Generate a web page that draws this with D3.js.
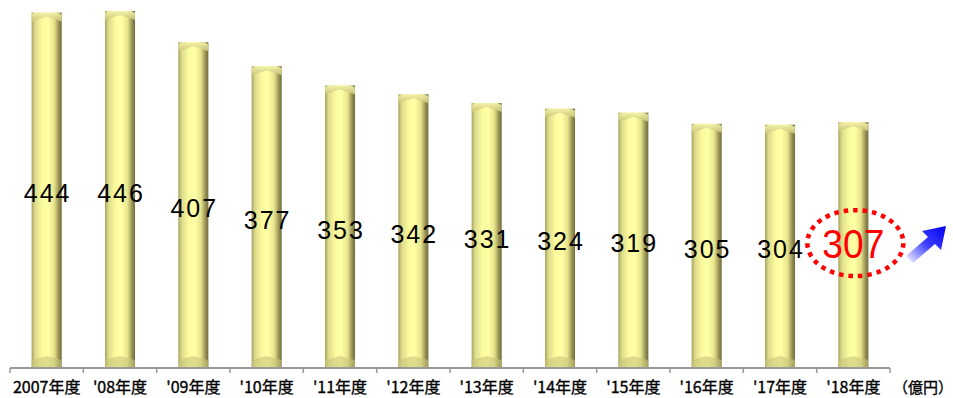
<!DOCTYPE html>
<html><head><meta charset="utf-8">
<script src="https://cdn.jsdelivr.net/npm/d3@7/dist/d3.min.js"></script>
<style>body{margin:0;background:#fff}svg{display:block}</style>
</head><body>
<svg id="c" width="953" height="398"></svg>
<script>
const categories = ["2007年度","'08年度","'09年度","'10年度","'11年度","'12年度","'13年度","'14年度","'15年度","'16年度","'17年度","'18年度"];
const values = [444,446,407,377,353,342,331,324,319,305,304,307];
const unitLabel = "（億円）";

const svg = d3.select("#c");
const x = d3.scaleBand().domain(categories).range([10,890]).paddingInner(0.59).paddingOuter(0.295);
const y = d3.scaleLinear().domain([0,446]).range([368,11]);

const defs = svg.append("defs");
const g = defs.append("linearGradient").attr("id","cyl").attr("x1","0").attr("x2","1").attr("y1","0").attr("y2","0");
[[0,"#a8a462"],[0.12,"#dedc8c"],[0.35,"#fbfb9e"],[0.55,"#ffffa6"],[0.75,"#e6e48c"],[0.9,"#9a9456"],[1,"#6e6a3a"]]
  .forEach(([o,c])=>g.append("stop").attr("offset",o).attr("stop-color",c));
const cap = defs.append("linearGradient").attr("id","cap").attr("x1","0").attr("x2","0").attr("y1","0").attr("y2","1");
[[0,"#f4f2a8"],[1,"#c8c47a"]].forEach(([o,c])=>cap.append("stop").attr("offset",o).attr("stop-color",c));
const arr = defs.append("linearGradient").attr("id","arr").attr("x1","0").attr("x2","1").attr("y1","1").attr("y2","0");
[[0,"#ffffff"],[0.5,"#4040ff"],[1,"#0000ee"]].forEach(([o,c])=>arr.append("stop").attr("offset",o).attr("stop-color",c));

const bw = x.bandwidth();
const bars = svg.append("g").selectAll("g").data(values).join("g")
  .attr("transform",(d,i)=>`translate(${x(categories[i])},0)`);
bars.append("rect").attr("x",0).attr("width",bw).attr("y",d=>y(d)).attr("height",d=>368-y(d)).attr("fill","url(#cyl)");
bars.append("path").attr("d",d=>{const t=y(d);return `M0,${t+2} L${bw*0.15},${t} L${bw*0.85},${t} L${bw},${t+2} L${bw},${t+9} L${bw/2},${t+4} L0,${t+9} Z`;})
  .attr("fill","url(#cap)").attr("opacity",0.9);
bars.append("path").attr("d",`M0,368 L0,360 L${bw/2},356 L${bw},360 L${bw},368 Z`).attr("fill","#c9c47c").attr("opacity",0.6);

// axis
const axis = svg.append("g");
axis.append("line").attr("x1",10).attr("x2",890).attr("y1",368).attr("y2",368).attr("stroke","#999").attr("stroke-width",2);
const tickPos = categories.map((c,i)=>10+i*x.step());
tickPos.push(890);
axis.selectAll("line.t").data(tickPos).join("line").attr("class","t")
  .attr("x1",d=>d).attr("x2",d=>d).attr("y1",368).attr("y2",373).attr("stroke","#999").attr("stroke-width",1.5);
axis.selectAll("text").data(categories).join("text")
  .attr("x",d=>x(d)+bw/2).attr("y",393).attr("text-anchor","middle")
  .attr("font-family","'Noto Sans CJK JP', sans-serif").attr("font-size",16)
  .attr("stroke","#000").attr("stroke-width",0.35).attr("fill","#000").text(d=>d);
svg.append("text").attr("x",893).attr("y",393).attr("text-anchor","start")
  .attr("font-family","'Noto Sans CJK JP', sans-serif").attr("font-size",15)
  .attr("stroke","#000").attr("stroke-width",0.35).text(unitLabel);

// value labels
const n = values.length;
svg.append("g").selectAll("text").data(values.slice(0,n-1)).join("text")
  .attr("x",(d,i)=>x(categories[i])+bw/2+1).attr("y",d=>(y(d)+368)/2+12)
  .attr("text-anchor","middle").attr("font-family","'Liberation Sans', Arial, sans-serif")
  .attr("font-size",25).attr("letter-spacing",2).attr("fill","#000").text(d=>d);

// highlighted last value
const lx = x(categories[n-1])+bw/2, ly = (y(values[n-1])+368)/2;
svg.append("ellipse").attr("cx",lx+2).attr("cy",ly-2).attr("rx",48).attr("ry",33)
  .attr("fill","none").attr("stroke","#ff0000").attr("stroke-width",4.5).attr("stroke-dasharray","4.5,5");
svg.append("text").attr("x",lx).attr("y",ly+13).attr("text-anchor","middle")
  .attr("font-family","'Liberation Sans', Arial, sans-serif").attr("font-size",40)
  .attr("textLength",62).attr("lengthAdjust","spacingAndGlyphs")
  .attr("fill","#ff0000").text(values[n-1]);

// arrow
svg.append("path").attr("d","M906,256 L928,237 L922,231 L946,226 L941,250 L935,244 L913,263 Z")
  .attr("fill","url(#arr)");
</script>
</body></html>
